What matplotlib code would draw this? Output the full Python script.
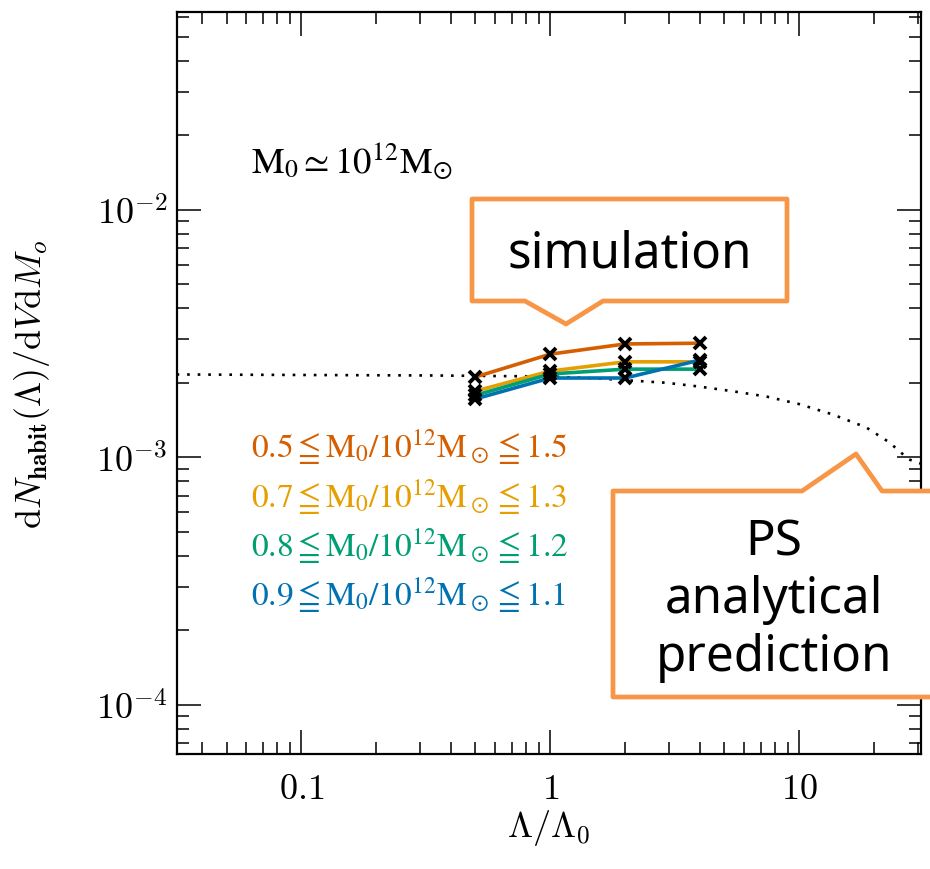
import matplotlib
matplotlib.use("Agg")
import matplotlib.pyplot as plt
import numpy as np
from matplotlib.patches import Polygon

plt.rcParams['mathtext.fontset'] = 'cm'
plt.rcParams['font.family'] = ['DejaVu Serif']

# simulation points
lam = [0.5, 1, 2, 4]
sim_05_15 = [2.11e-3, 2.61e-3, 2.87e-3, 2.89e-3]
sim_07_13 = [1.85e-3, 2.23e-3, 2.43e-3, 2.43e-3]
sim_08_12 = [1.78e-3, 2.17e-3, 2.27e-3, 2.27e-3]
sim_09_11 = [1.72e-3, 2.09e-3, 2.09e-3, 2.47e-3]

# PS analytical prediction (dotted curve)
ps_lam = [0.0315, 0.1, 0.33, 1.0, 1.57, 2.13, 2.92, 3.97, 5.37, 7.37, 10.0, 13.6, 18.6, 23.0, 27.6, 31.0]
ps_val = [2.16e-3, 2.15e-3, 2.14e-3, 2.12e-3, 2.08e-3, 2.04e-3, 2.00e-3, 1.93e-3, 1.85e-3,
          1.76e-3, 1.64e-3, 1.49e-3, 1.32e-3, 1.15e-3, 0.98e-3, 0.94e-3]

labels = [r'$0.5{\leqq}\mathrm{M}_0/10^{12}\mathrm{M}_\odot{\leqq}1.5$',
          r'$0.7{\leqq}\mathrm{M}_0/10^{12}\mathrm{M}_\odot{\leqq}1.3$',
          r'$0.8{\leqq}\mathrm{M}_0/10^{12}\mathrm{M}_\odot{\leqq}1.2$',
          r'$0.9{\leqq}\mathrm{M}_0/10^{12}\mathrm{M}_\odot{\leqq}1.1$']
colors = ['#D55E00', '#E69F00', '#009E73', '#0072B2']
series = [sim_05_15, sim_07_13, sim_08_12, sim_09_11]

W, H = 930, 870
fig = plt.figure(figsize=(W / 100, H / 100), dpi=100)
ax = fig.add_axes([177 / W, 1 - 755 / H, (921 - 177) / W, (755 - 13) / H])

ax.plot(ps_lam, ps_val, ls=(0, (1, 3)), color='black', lw=1.9)

for vals, c in zip(series, colors):
    ax.plot(lam, vals, color=c, lw=2.6, zorder=3)
for vals in series:
    ax.plot(lam, vals, ls='none', marker='x', ms=8, mew=2.8, color='black', zorder=4)

ax.set_xscale('log')
ax.set_yscale('log')
ax.set_xlim(10 ** -1.5, 10 ** 1.49)
ax.set_ylim(10 ** -4.2, 10 ** -1.2)

ax.set_xticks([0.1, 1, 10])
ax.set_xticklabels([r'$0.1$', r'$1$', r'$10$'])
ax.set_yticks([1e-4, 1e-3, 1e-2])
ax.set_yticklabels([r'$10^{-4}$', r'$10^{-3}$', r'$10^{-2}$'])
ax.tick_params(which='both', direction='in', top=True, right=True, width=1.1, labelsize=26)
ax.tick_params(which='major', length=17)
ax.tick_params(which='minor', length=8.5)
ax.tick_params(axis='x', pad=12)
ax.tick_params(axis='y', pad=7)
for s in ax.spines.values():
    s.set_linewidth(1.6)

ax.set_xlabel(r'$\Lambda/\Lambda_0$', fontsize=26, labelpad=2)
ax.set_ylabel(r'$\mathrm{d}N_{\mathbf{habit}}(\Lambda)/\mathrm{d}V\mathrm{d}M_o$', fontsize=26, labelpad=32)

ax.text(0.100, 0.80, r'$\mathrm{M}_0{\simeq}10^{12}\mathrm{M}_{\odot}$', transform=ax.transAxes,
        fontsize=26.5, va='center', ha='left', math_fontfamily='stix')
for i, (lab, c) in enumerate(zip(labels, colors)):
    ax.text(0.100, 0.414 - i * 0.0665, lab, transform=ax.transAxes, color=c,
            fontsize=24, va='center', ha='left', math_fontfamily='stix')


# callouts drawn in figure pixel coords
def px(pts):
    return [(x / W, 1 - y / H) for x, y in pts]


orange = '#F79646'
box1 = px([(472, 200), (787, 200), (787, 302), (603, 302), (566, 325), (525, 302), (472, 302)])
box2 = px([(613, 492), (802, 492), (856, 455), (882, 492), (940, 492), (940, 698), (613, 698)])
for b in (box1, box2):
    fig.patches.append(Polygon(b, closed=True, transform=fig.transFigure, facecolor='white',
                               edgecolor=orange, lw=3.4, joinstyle='round', zorder=10))

fig.text(630 / W, 1 - 254 / H, 'simulation', fontsize=35.5, family='Noto Sans',
         ha='center', va='center', zorder=11)
fig.text(774 / W, 1 - 600 / H, 'PS\nanalytical\nprediction', fontsize=35.5, family='Noto Sans',
         ha='center', va='center', linespacing=1.2, zorder=11)

fig.savefig('out.png', dpi=100)
